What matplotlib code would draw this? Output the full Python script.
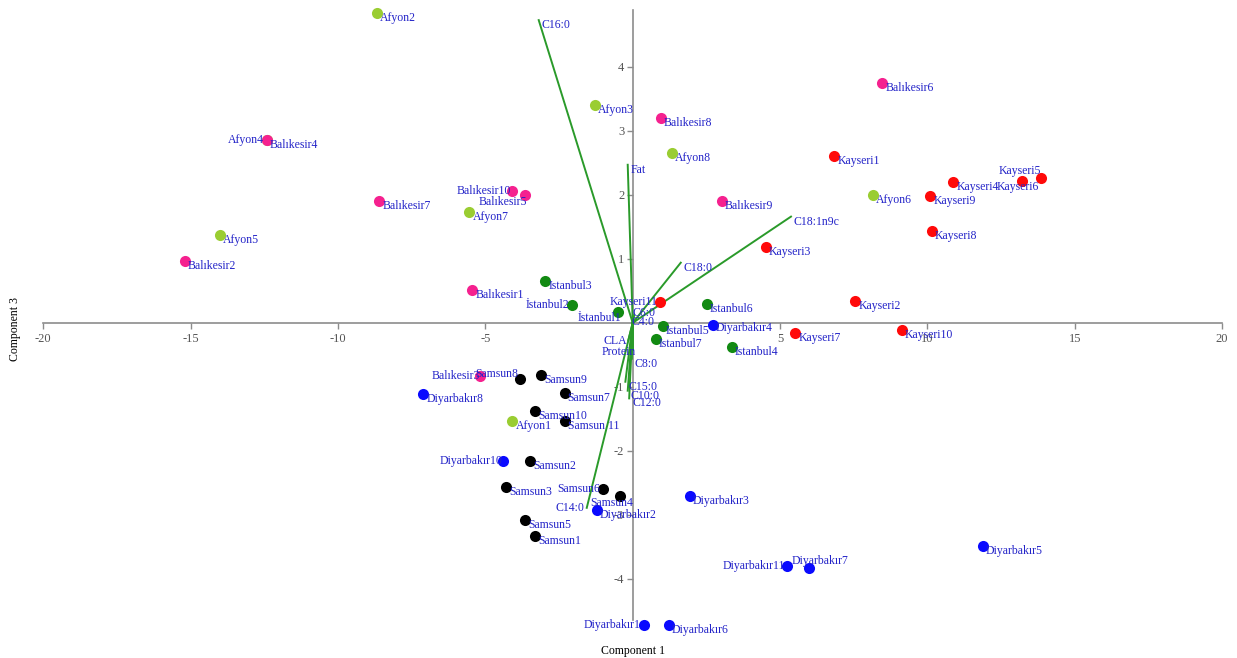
import matplotlib
matplotlib.use('Agg')
import matplotlib.pyplot as plt

plt.rcParams['font.family'] = ['Liberation Serif', 'DejaVu Serif']
plt.rcParams['axes.unicode_minus'] = False

# sample scores on component 1 / component 3
afyon_names = ['Afyon1', 'Afyon2', 'Afyon3', 'Afyon4', 'Afyon5', 'Afyon6', 'Afyon7', 'Afyon8']
afyon_x = [-4.08, -8.67, -1.29, -12.41, -14.0, 8.16, -5.54, 1.33]
afyon_y = [-1.53, 4.84, 3.41, 2.86, 1.375, 2.0, 1.73, 2.66]

balikesir_names = ['Balıkesir1', 'Balıkesir2', 'Balıkesir3', 'Balıkesir4', 'Balıkesir5',
                   'Balıkesir6', 'Balıkesir7', 'Balıkesir8', 'Balıkesir9', 'Balıkesir10']
balikesir_x = [-5.44, -15.2, -5.17, -12.41, -3.64, 8.47, -8.6, 0.95, 3.03, -4.08]
balikesir_y = [0.52, 0.97, -0.83, 2.86, 2.0, 3.75, 1.91, 3.2, 1.91, 2.06]

kayseri_names = ['Kayseri1', 'Kayseri2', 'Kayseri3', 'Kayseri4', 'Kayseri5', 'Kayseri6',
                 'Kayseri7', 'Kayseri8', 'Kayseri9', 'Kayseri10', 'Kayseri11']
kayseri_x = [6.84, 7.55, 4.52, 10.88, 13.84, 13.2, 5.51, 10.14, 10.1, 9.12, 0.92]
kayseri_y = [2.61, 0.34, 1.19, 2.2, 2.27, 2.22, -0.16, 1.44, 1.98, -0.11, 0.33]

istanbul_names = ['İstanbul1', 'İstanbul2', 'Istanbul3', 'Istanbul4', 'Istanbul5',
                  'Istanbul6', 'Istanbul7']
istanbul_x = [-0.51, -2.07, -2.96, 3.37, 1.02, 2.52, 0.78]
istanbul_y = [0.17, 0.28, 0.66, -0.375, -0.05, 0.30, -0.25]

diyarbakir_names = ['Diyarbakır1', 'Diyarbakır2', 'Diyarbakır3', 'Diyarbakır4', 'Diyarbakır5',
                    'Diyarbakır6', 'Diyarbakır7', 'Diyarbakır8', 'Diyarbakır10', 'Diyarbakır11']
diyarbakir_x = [0.37, -1.22, 1.94, 2.72, 11.87, 1.22, 5.99, -7.11, -4.39, 5.24]
diyarbakir_y = [-4.72, -2.92, -2.70, -0.03, -3.48, -4.72, -3.83, -1.11, -2.16, -3.80]

samsun_names = ['Samsun1', 'Samsun2', 'Samsun3', 'Samsun4', 'Samsun5', 'Samsun6',
                'Samsun7', 'Samsun8', 'Samsun9', 'Samsun10', 'Samsun 11']
samsun_x = [-3.30, -3.47, -4.29, -0.44, -3.64, -1.02, -2.31, -3.84, -3.10, -3.30, -2.31]
samsun_y = [-3.33, -2.16, -2.56, -2.70, -3.08, -2.59, -1.09, -0.875, -0.81, -1.375, -1.53]

# variable loadings
var_names = ['C16:0', 'Fat', 'C18:1n9c', 'C18:0', 'C14:0', 'C12:0', 'C10:0', 'C15:0',
             'C8:0', 'CLA', 'Protein', 'C6:0', 'C4:0']
var_x = [-3.19, -0.17, 5.37, 1.63, -1.56, -0.12, -0.17, -0.25, -0.03, -0.15, 0.0, 0.05, 0.1]
var_y = [4.73, 2.47, 1.66, 0.94, -2.89, -1.18, -1.06, -0.92, -0.56, -0.27, -0.42, 0.12, 0.05]

groups = [
    (afyon_names, afyon_x, afyon_y, '#9acd32'),
    (balikesir_names, balikesir_x, balikesir_y, '#f5218f'),
    (istanbul_names, istanbul_x, istanbul_y, '#128a12'),
    (samsun_names, samsun_x, samsun_y, 'black'),
    (diyarbakir_names, diyarbakir_x, diyarbakir_y, '#0a0aff'),
    (kayseri_names, kayseri_x, kayseri_y, '#ff0a0a'),
]

# label placement (pixels from the point, alignment)
default_pos = (3, -5, 'left')
label_pos = {
    'Afyon4': (-3, 0, 'right'),
    'Balıkesir10': (-1, 0, 'right'),
    'Balıkesir5': (2, -7, 'right'),
    'Balıkesir3': (0, 0, 'right'),
    'Samsun8': (-1, 5, 'right'),
    'Kayseri11': (-2, 0, 'right'),
    'Kayseri5': (0, 7, 'right'),
    'Kayseri6': (17, -6, 'right'),
    'İstanbul2': (-2, 0, 'right'),
    'İstanbul1': (4, -6, 'right'),
    'Diyarbakır10': (-1, 0, 'right'),
    'Diyarbakır11': (-2, 0, 'right'),
    'Diyarbakır7': (-18, 7, 'left'),
    'Diyarbakır1': (-3, 0, 'right'),
    'Samsun6': (-3, 0, 'right'),
    'Samsun4': (-8, -7, 'center'),
    'Diyarbakır4': (3, -3, 'left'),
    'C14:0': (-2, 0, 'right'),
    'CLA': (-1, -1, 'right'),
    'Protein': (3, -2, 'right'),
    'C6:0': (-2, 2, 'left'),
    'C4:0': (-4, -2, 'left'),
}

label_color = '#2323c8'


def put_label(ax, name, x, y, size=8.5):
    dx, dy, ha = label_pos.get(name, default_pos)
    ax.annotate(name, (x, y), xytext=(dx, dy), textcoords='offset pixels',
                ha=ha, va='center', color=label_color, fontsize=size, zorder=5,
                annotation_clip=False)


def main():
    fig = plt.figure(figsize=(12.37, 6.58), dpi=100)
    ax = fig.add_axes([0.035, 0.058, 0.953, 0.927])
    ax.set_xlim(-20, 20)
    ax.set_ylim(-4.64, 4.89)

    for s in ['top', 'right']:
        ax.spines[s].set_visible(False)
    for s in ['left', 'bottom']:
        ax.spines[s].set_position(('data', 0))
        ax.spines[s].set_color('#8c8c8c')
        ax.spines[s].set_linewidth(1.2)
        ax.spines[s].set_zorder(1)

    ax.set_xticks([-20, -15, -10, -5, 5, 10, 15, 20])
    ax.set_yticks([-4, -3, -2, -1, 1, 2, 3, 4])
    ax.tick_params(colors='#8c8c8c', labelcolor='#555555', labelsize=9, length=4, width=1)
    ax.tick_params(axis='y', pad=2)

    # loading vectors
    for name, vx, vy in zip(var_names, var_x, var_y):
        ax.plot([0, vx], [0, vy], color='#2a9a2a', lw=1.4, zorder=2)
        put_label(ax, name, vx, vy, size=8.5)

    for names, xs, ys, color in groups:
        ax.scatter(xs, ys, s=64, color=color, zorder=3, clip_on=False, linewidths=0)
        for n, x, y in zip(names, xs, ys):
            put_label(ax, n, x, y)

    fig.text(0.512, 0.002, 'Component 1', ha='center', va='bottom', fontsize=8.5)
    fig.text(0.012, 0.5, 'Component 3', ha='center', va='center', rotation=90, fontsize=8.5)

    fig.savefig('out.png', dpi=100)


if __name__ == '__main__':
    main()
